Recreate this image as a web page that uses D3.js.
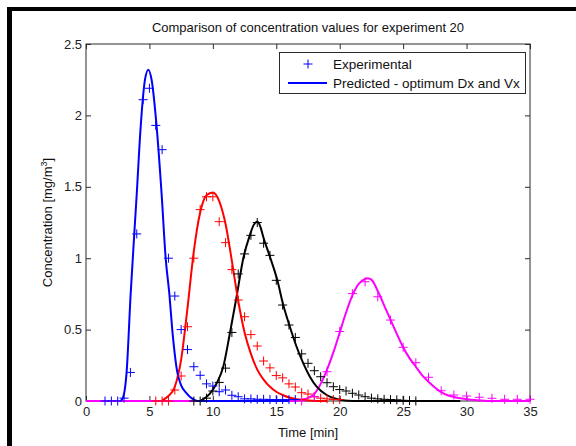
<!DOCTYPE html>
<html><head><meta charset="utf-8">
<script src="https://cdn.jsdelivr.net/npm/d3@7"></script>
<style>
html,body{margin:0;padding:0;background:#fff;}
svg{display:block;font-family:"Liberation Sans",Arial,sans-serif;}
</style></head>
<body>
<script>
// ---------- data ----------
const xTicks = [0,5,10,15,20,25,30,35];
const yTicks = [0,0.5,1,1.5,2,2.5];
const yTickLabels = ["0","0.5","1","1.5","2","2.5"];

const expBlueT = [1.5,2,2.5,3,3.5,4,4.5,5,5.5,6,6.5,7,7.5,8,8.5,9,9.5,10,10.5,11,11.5,12,12.5,13,13.5,14,14.5,15,15.5,16,16.5];
const expBlueC = [0,0,0,0.02,0.2,1.17,2.11,2.19,1.93,1.76,1.0,0.735,0.5,0.36,0.24,0.18,0.12,0.105,0.065,0.077,0.04,0.03,0.015,0.015,0.012,0.012,0.01,0.01,0.01,0.01,0.01];

const expRedT = [5.5,6,6.5,7,7.5,8,8.5,9,9.5,10,10.5,11,11.5,12,12.5,13,13.5,14,14.5,15,15.5,16,16.5,17,17.5,18,18.5,19,19.5,20];
const expRedC = [0,0,0,0.077,0.175,0.52,1.0,1.34,1.43,1.43,1.256,1.109,0.92,0.707,0.59,0.465,0.385,0.28,0.232,0.178,0.162,0.12,0.098,0.058,0.049,0.03,0.02,0.015,0.01,0.01];

const expBlackT = [8.5,9,9.5,10,10.5,11,11.5,12,12.5,13,13.5,14,14.5,15,15.5,16,16.5,17,17.5,18,18.5,19,19.5,20,20.5,21,21.5,22,22.5,23,23.5,24,24.5,25,25.5,26];
const expBlackC = [0,0,0.02,0.07,0.13,0.23,0.48,0.89,1.03,1.16,1.25,1.105,1.02,0.845,0.672,0.532,0.445,0.33,0.264,0.212,0.17,0.128,0.1,0.08,0.07,0.054,0.042,0.03,0.02,0.015,0.012,0.01,0.008,0.005,0.003,0];

const expMagT = [17,18,19,20,21,22,23,24,25,26,27,28,29,30,31,32,33,34,35];
const expMagC = [0,0.03,0.205,0.487,0.752,0.835,0.73,0.567,0.376,0.268,0.166,0.072,0.042,0.035,0.026,0.019,0.012,0.012,0.012];

const predBlueT = [2.7,2.9,3.2,3.52,4.0,4.31,4.65,4.91,5.17,5.57,5.96,6.28,6.57,6.8,7.2,7.5,7.93,8.4,8.8,10,16];
const predBlueC = [0,0.02,0.2,0.75,1.45,1.92,2.25,2.32,2.25,1.92,1.45,1.0,0.75,0.5,0.2,0.11,0.054,0.015,0,0,0];

const predRedT = [6.0,6.5,7.0,7.5,8.0,8.5,9.0,9.5,10.0,10.5,11.0,11.5,12.0,12.5,13.0,13.5,14.0,14.5,15.0,15.5,16.0,16.5,17.0,18.0,19.0];
const predRedC = [0.005,0.035,0.1,0.29,0.65,1.05,1.32,1.44,1.46,1.40,1.24,0.98,0.70,0.48,0.33,0.22,0.15,0.10,0.065,0.042,0.025,0.015,0.008,0,0];

const predBlackT = [9.0,9.2,9.75,10.3,10.82,11.35,11.87,12.4,12.92,13.2,13.5,13.75,13.97,14.5,15.08,15.55,16.07,16.6,17.13,17.65,18.18,18.97,19.76,21,29.5];
const predBlackC = [0,0.01,0.05,0.124,0.24,0.478,0.73,1.0,1.162,1.23,1.256,1.22,1.15,1.01,0.847,0.672,0.52,0.38,0.264,0.17,0.1,0.042,0.014,0,0];

const predMagT = [0,16.5,17.0,17.5,18.0,18.5,19.0,19.5,20.0,20.5,21.0,21.5,22.0,22.2,22.5,23.0,23.5,24.0,24.5,25.0,25.5,26.0,26.5,27.0,27.5,28.0,28.5,29.0,29.5,30,31,32,35];
const predMagC = [0,0,0.01,0.02,0.05,0.12,0.22,0.34,0.48,0.62,0.74,0.82,0.855,0.86,0.85,0.77,0.67,0.57,0.47,0.376,0.3,0.24,0.18,0.135,0.095,0.062,0.04,0.028,0.02,0.013,0.005,0,0];

const seriesColors = ["#0000ff","#ff0000","#000000","#ff00ff"];

// ---------- layout ----------
const W = 576, H = 446;
const L = 86, R = 530, T = 44, B = 401;
const FONT = "'Liberation Sans',Arial,sans-serif";
const svg = d3.select("body").append("svg").attr("width",W).attr("height",H);

svg.append("rect").attr("x",0).attr("y",0).attr("width",W).attr("height",H).attr("fill","#fff");
// figure frame bars
svg.append("rect").attr("x",7).attr("y",7).attr("width",W-7).attr("height",4).attr("fill","#000");
svg.append("rect").attr("x",7).attr("y",7).attr("width",5).attr("height",H-7).attr("fill","#000");

const x = d3.scaleLinear().domain([0,35]).range([L,R]);
const y = d3.scaleLinear().domain([0,2.5]).range([B,T]);

const axisColor = "#2a2a2a";
const tickLen = 5;

// axes with inward ticks
const gx = svg.append("g").attr("transform",`translate(0,${B})`)
  .call(d3.axisBottom(x).tickValues(xTicks).tickSize(-tickLen).tickPadding(6).tickFormat(d3.format("d")));
const gxt = svg.append("g").attr("transform",`translate(0,${T})`)
  .call(d3.axisTop(x).tickValues(xTicks).tickSize(-tickLen).tickFormat(""));
const gy = svg.append("g").attr("transform",`translate(${L},0)`)
  .call(d3.axisLeft(y).tickValues(yTicks).tickSize(-tickLen).tickPadding(4).tickFormat((d,i)=>yTickLabels[i]));
const gyr = svg.append("g").attr("transform",`translate(${R},0)`)
  .call(d3.axisRight(y).tickValues(yTicks).tickSize(-tickLen).tickFormat(""));
[gx,gxt,gy,gyr].forEach(g=>{
  g.select(".domain").remove();
  g.selectAll("line").attr("stroke",axisColor);
  g.selectAll("text").attr("fill","#222").style("font-size","13px").style("font-family",FONT);
});
svg.append("rect").attr("x",L).attr("y",T).attr("width",R-L).attr("height",B-T)
  .attr("fill","none").attr("stroke",axisColor).attr("stroke-width",1);

// predicted curves
const line = d3.line().x(d=>x(d[0])).y(d=>y(d[1])).curve(d3.curveMonotoneX);
const preds = [
  [predMagT,predMagC,3],
  [predBlackT,predBlackC,2],
  [predRedT,predRedC,1],
  [predBlueT,predBlueC,0]
];
const plotG = svg.append("g");
preds.forEach(([t,c,ci])=>{
  plotG.append("path").datum(t.map((v,i)=>[v,c[i]]))
    .attr("d",line).attr("fill","none").attr("stroke",seriesColors[ci])
    .attr("stroke-width",2).attr("stroke-linejoin","round");
});

// experimental markers
const exps = [
  [expBlueT,expBlueC,0],
  [expRedT,expRedC,1],
  [expBlackT,expBlackC,2],
  [expMagT,expMagC,3]
];
const ms = 4.5;
exps.forEach(([t,c,ci])=>{
  plotG.selectAll(null).data(t.map((v,i)=>[v,c[i]])).enter().append("path")
    .attr("d",d=>{const px=x(d[0]),py=y(d[1]);return `M${px-ms},${py}H${px+ms}M${px},${py-ms}V${py+ms}`;})
    .attr("stroke",seriesColors[ci]).attr("stroke-width",1).attr("fill","none");
});

// title & labels
svg.append("text").attr("x",(L+R)/2).attr("y",32).attr("text-anchor","middle")
  .style("font-size","13px").attr("fill","#111").text("Comparison of concentration values for experiment 20");
svg.append("text").attr("x",(L+R)/2).attr("y",437).attr("text-anchor","middle")
  .style("font-size","13px").attr("fill","#111").text("Time [min]");
const yl = svg.append("text").attr("transform",`translate(52,${(T+B)/2}) rotate(-90)`)
  .attr("text-anchor","middle").style("font-size","13px").attr("fill","#111");
yl.append("tspan").text("Concentration [mg/m");
yl.append("tspan").attr("dy",-5).style("font-size","9px").text("3");
yl.append("tspan").attr("dy",5).text("]");

// legend
const lg = svg.append("g");
lg.append("rect").attr("x",279.5).attr("y",52.5).attr("width",246).attr("height",41)
  .attr("fill","#fff").attr("stroke",axisColor).attr("stroke-width",1);
const lx = 308, ly1 = 64, ly2 = 83;
lg.append("path").attr("d",`M${lx-ms},${ly1}H${lx+ms}M${lx},${ly1-ms}V${ly1+ms}`)
  .attr("stroke","#0000ff").attr("stroke-width",1);
lg.append("line").attr("x1",288).attr("x2",327).attr("y1",ly2).attr("y2",ly2)
  .attr("stroke","#0000ff").attr("stroke-width",2);
lg.append("text").attr("x",333).attr("y",ly1+5).style("font-size","13.5px").attr("fill","#111").text("Experimental");
lg.append("text").attr("x",333).attr("y",ly2+5).style("font-size","13.5px").attr("fill","#111").text("Predicted - optimum Dx and Vx");
</script>
</body></html>
